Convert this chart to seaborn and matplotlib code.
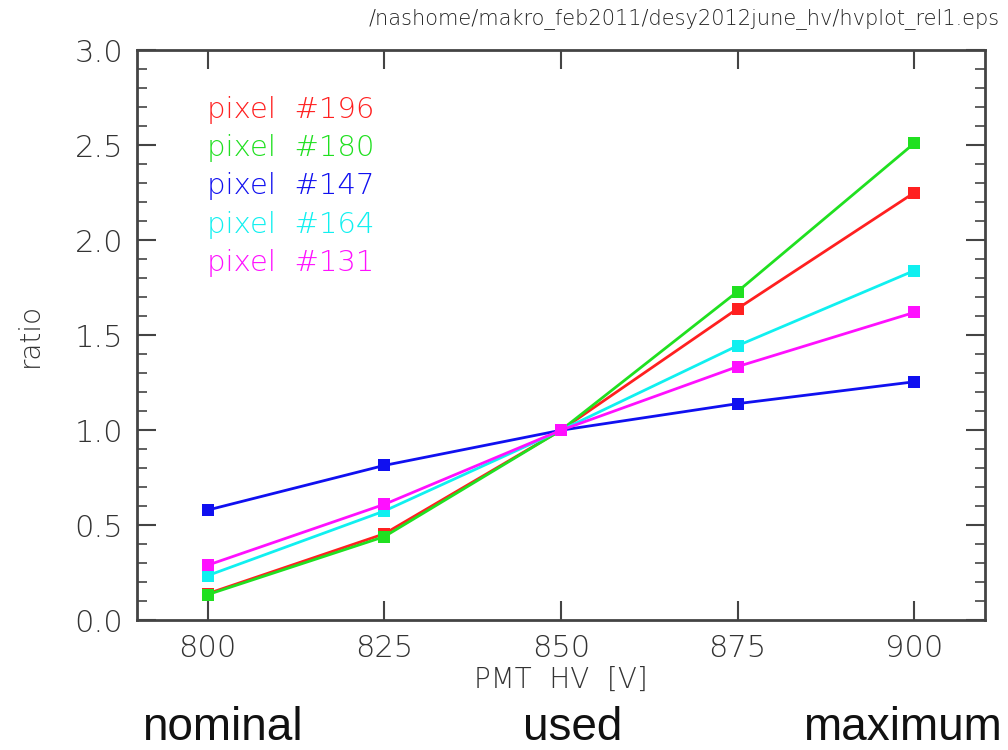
import numpy as np
import pandas as pd
import seaborn as sns
import matplotlib.pyplot as plt
from matplotlib.ticker import MultipleLocator

# PMT high voltage settings and gain ratio (relative to 850 V)
hv = [800, 825, 850, 875, 900]
pixels = ["196", "180", "147", "164", "131"]
ratio_196 = [0.14, 0.455, 1.0, 1.64, 2.25]
ratio_180 = [0.135, 0.44, 1.0, 1.73, 2.51]
ratio_147 = [0.58, 0.815, 1.0, 1.14, 1.255]
ratio_164 = [0.235, 0.575, 1.0, 1.445, 1.84]
ratio_131 = [0.29, 0.61, 1.0, 1.335, 1.62]
colors = ["#ff2020", "#20e020", "#1010f0", "#10f0f0", "#ff10ff"]

series = [ratio_196, ratio_180, ratio_147, ratio_164, ratio_131]
rows = []
for px, vals in zip(pixels, series):
    for v, r in zip(hv, vals):
        rows.append({"hv": v, "ratio": r, "pixel": px})
df = pd.DataFrame(rows)

sns.set_style("ticks")
plt.rcParams['font.family'] = ['DejaVu Sans']

fig = plt.figure(figsize=(10.08, 7.5), dpi=100)
ax = fig.add_axes([0.136, 0.173, 0.841, 0.760])

sns.lineplot(data=df, x="hv", y="ratio", hue="pixel", hue_order=pixels,
             palette=dict(zip(pixels, colors)), marker="s", markersize=8,
             markeredgewidth=0, linewidth=2, legend=False, ax=ax)

ax.set_xlim(790, 910)
ax.set_ylim(0, 3.0)
ax.set_xticks(hv)
ax.yaxis.set_major_locator(MultipleLocator(0.5))
ax.yaxis.set_minor_locator(MultipleLocator(0.1))
ax.yaxis.set_major_formatter(plt.FormatStrFormatter("%.1f"))
ax.tick_params(which="major", direction="in", length=14, width=1.5,
               top=True, right=True, labelsize=22, colors="#444444",
               labelcolor="#333333", pad=10)
ax.tick_params(which="minor", direction="in", length=7, width=1.2,
               left=True, right=True, colors="#444444")
for lab in ax.get_xticklabels() + ax.get_yticklabels():
    lab.set_fontweight("light")
for s in ax.spines.values():
    s.set_linewidth(2)
    s.set_color("#444444")

ax.set_xlabel("PMT  HV  [V]", fontsize=20, color="#333333", labelpad=2,
              fontweight="light")
ax.set_ylabel("ratio", fontsize=20, color="#333333", labelpad=22,
              fontweight="light")

# coloured legend text
for i, (px, c) in enumerate(zip(pixels, colors)):
    ax.text(0.083, 0.895 - i * 0.067, f"pixel  #{px}", color=c, fontsize=21,
            transform=ax.transAxes, va="center", ha="left", fontweight="light")

fig.text(0.992, 0.975, "/nashome/makro_feb2011/desy2012june_hv/hvplot_rel1.eps",
         ha="right", va="center", fontsize=15, color="#222222", fontweight="light")

# annotations under the x axis
fig.text(0.221, 0.03, "nominal", ha="center", va="center", fontsize=33,
         family=["Liberation Sans"], color="#111111")
fig.text(0.568, 0.03, "used", ha="center", va="center", fontsize=33,
         family=["Liberation Sans"], color="#111111")
fig.text(0.895, 0.03, "maximum", ha="center", va="center", fontsize=33,
         family=["Liberation Sans"], color="#111111")

fig.savefig("out.png", dpi=100)
